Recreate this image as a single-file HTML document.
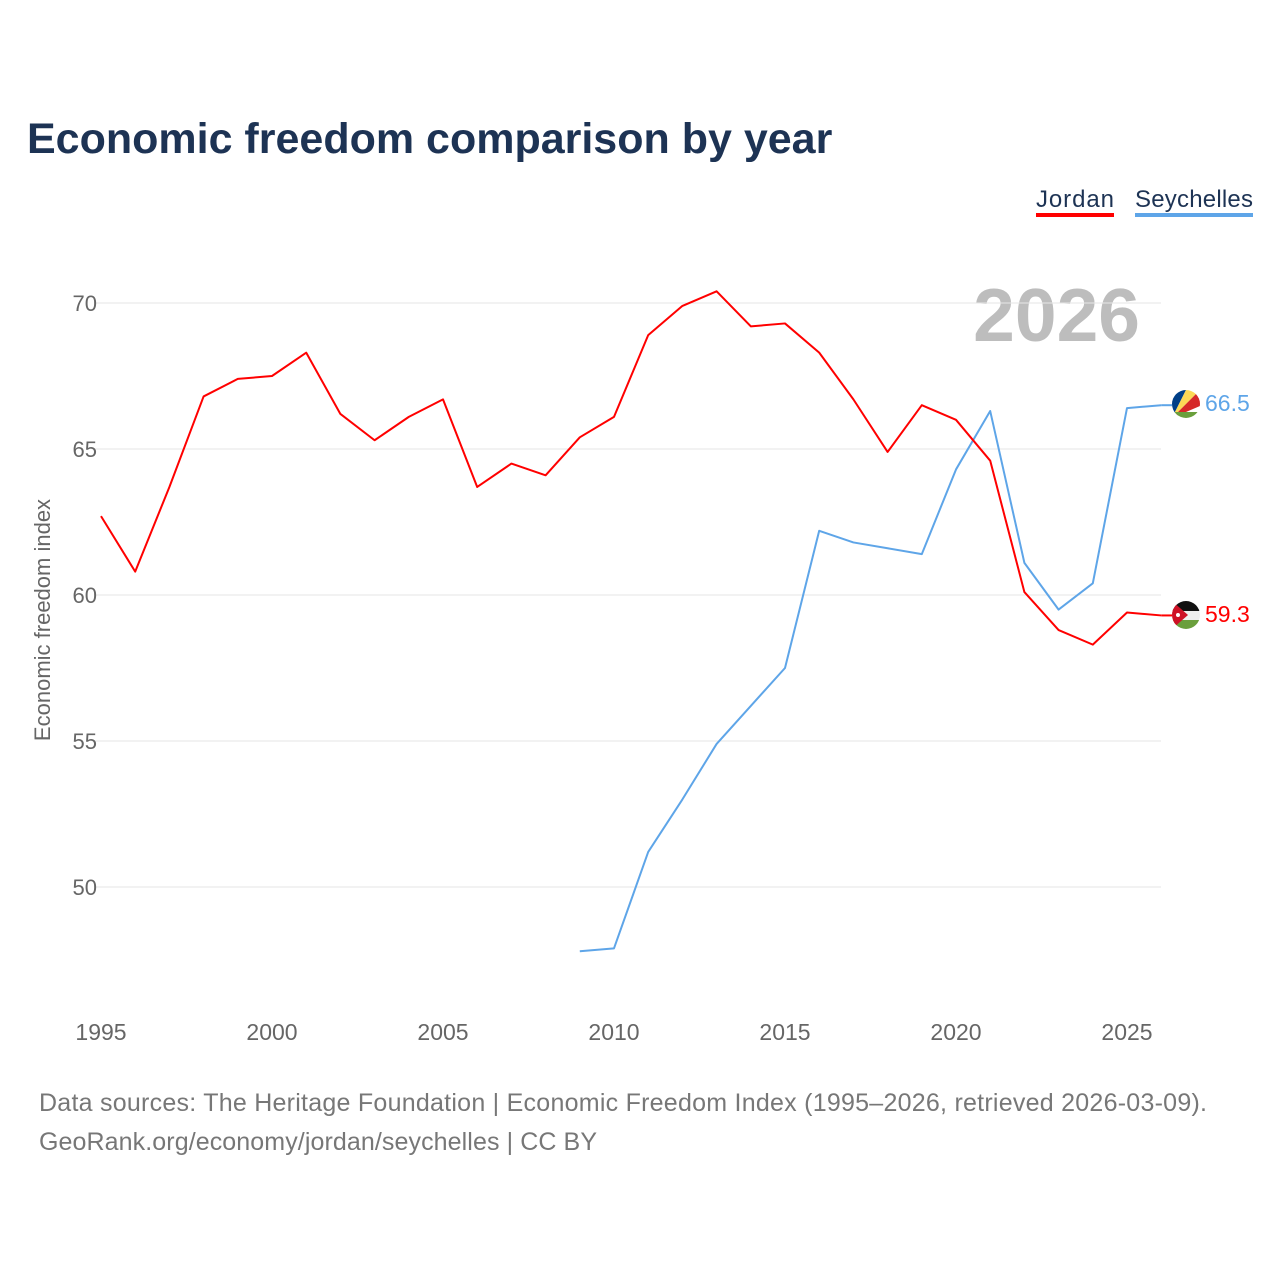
<!DOCTYPE html>
<html><head><meta charset="utf-8"><style>
body{margin:0;background:#fff;font-family:"Liberation Sans",sans-serif}
</style></head><body>
<svg width="1280" height="1280" xmlns="http://www.w3.org/2000/svg" style="font-family:'Liberation Sans',sans-serif">
<text x="27" y="153" font-size="43" font-weight="bold" fill="#1d3354">Economic freedom comparison by year</text>
<g>
<text x="1036" y="207" font-size="24" fill="#1d3354" textLength="78">Jordan</text>
<rect x="1036" y="213" width="78" height="4" fill="#ff0000"/>
<text x="1135" y="207" font-size="24" fill="#1d3354" textLength="118">Seychelles</text>
<rect x="1135" y="213" width="118" height="4" fill="#5ea5e8"/>
</g>
<text x="1140" y="341" font-size="75" font-weight="bold" fill="#bdbdbd" text-anchor="end">2026</text>
<g id="grid"></g><g id="axes"></g><g id="lines"></g>
<text transform="translate(50,620) rotate(-90)" font-size="22" fill="#666" text-anchor="middle">Economic freedom index</text>
<g>
<clipPath id="cs"><circle cx="1186" cy="404" r="14"/></clipPath>
<g clip-path="url(#cs)"><rect x="1172" y="390" width="28" height="28" fill="#fff"/>
<polygon points="1172,418 1172,390 1186,390" fill="#003f87"/>
<polygon points="1172,418 1186,390 1200,390" fill="#fcd856"/>
<polygon points="1172,418 1200,390 1200,406" fill="#d62828"/>
<rect x="1172" y="412" width="28" height="6" fill="#6a9f3c"/></g></g>
<g>
<clipPath id="cj"><circle cx="1186" cy="615" r="14"/></clipPath>
<g clip-path="url(#cj)"><rect x="1172" y="601" width="28" height="10" fill="#111"/><rect x="1172" y="611" width="28" height="9" fill="#eee"/><rect x="1172" y="620" width="28" height="10" fill="#6a9f3c"/>
<polygon points="1172,601 1188,615 1172,629" fill="#ce1126"/><circle cx="1178" cy="615" r="2" fill="#fff"/></g></g>
<text x="1205" y="411" font-size="23" fill="#5ea5e8">66.5</text>
<text x="1205" y="622" font-size="23" fill="#ff0000">59.3</text>
<text x="39" y="1111" font-size="25" fill="#777" textLength="1168">Data sources: The Heritage Foundation | Economic Freedom Index (1995–2026, retrieved 2026-03-09).</text>
<text x="39" y="1150" font-size="25" fill="#777" textLength="558">GeoRank.org/economy/jordan/seychelles | CC BY</text>
</svg>
<script>
const years=[1995,1996,1997,1998,1999,2000,2001,2002,2003,2004,2005,2006,2007,2008,2009,2010,2011,2012,2013,2014,2015,2016,2017,2018,2019,2020,2021,2022,2023,2024,2025,2026];
const jordan=[62.7,60.8,63.7,66.8,67.4,67.5,68.3,66.2,65.3,66.1,66.7,63.7,64.5,64.1,65.4,66.1,68.9,69.9,70.4,69.2,69.3,68.3,66.7,64.9,66.5,66.0,64.6,60.1,58.8,58.3,59.4,59.3];
const seyYears=[2009,2010,2011,2012,2013,2014,2015,2016,2017,2018,2019,2020,2021,2022,2023,2024,2025,2026];
const seychelles=[47.8,47.9,51.2,53.0,54.9,56.2,57.5,62.2,61.8,61.6,61.4,64.3,66.3,61.1,59.5,60.4,66.4,66.5];
const yTicks=[50,55,60,65,70];
const xTicks=[1995,2000,2005,2010,2015,2020,2025];
const NS="http://www.w3.org/2000/svg";
const x=y=>101+(y-1995)*(1127-101)/30;
const yv=v=>303+(70-v)*(887-303)/20;
function mk(t,a,p){const e=document.createElementNS(NS,t);for(const k in a)e.setAttribute(k,a[k]);document.getElementById(p).appendChild(e);return e;}
yTicks.forEach(t=>{
 const l=mk('line',{x1:95,x2:1161,y1:yv(t),y2:yv(t),stroke:'#e6e6e6','stroke-width':1},'grid');
 
 
 const tx=mk('text',{x:97,y:yv(t)+8,'font-size':22,fill:'#666','text-anchor':'end'},'axes');tx.textContent=t;
 
 
});
xTicks.forEach(t=>{
 const tx=mk('text',{x:x(t),y:1040,'font-size':23,fill:'#666','text-anchor':'middle'},'axes');tx.textContent=t;
 
 
});
function line(xs,vs,c,n){
 const p=mk('polyline',{points:xs.map((yr,i)=>x(yr)+','+yv(vs[i])).join(' '),fill:'none',stroke:c,'stroke-width':2,'stroke-linejoin':'round'},'lines');
 
 
 const last=vs[vs.length-1];
 const s=mk('line',{x1:x(xs[xs.length-1]),x2:1172,y1:yv(last),y2:yv(last),stroke:c,'stroke-width':2},'lines');
 
 
}
line(seyYears,seychelles,'#5ea5e8','line-seychelles');
line(years,jordan,'#ff0000','line-jordan');
</script>
</body></html>
